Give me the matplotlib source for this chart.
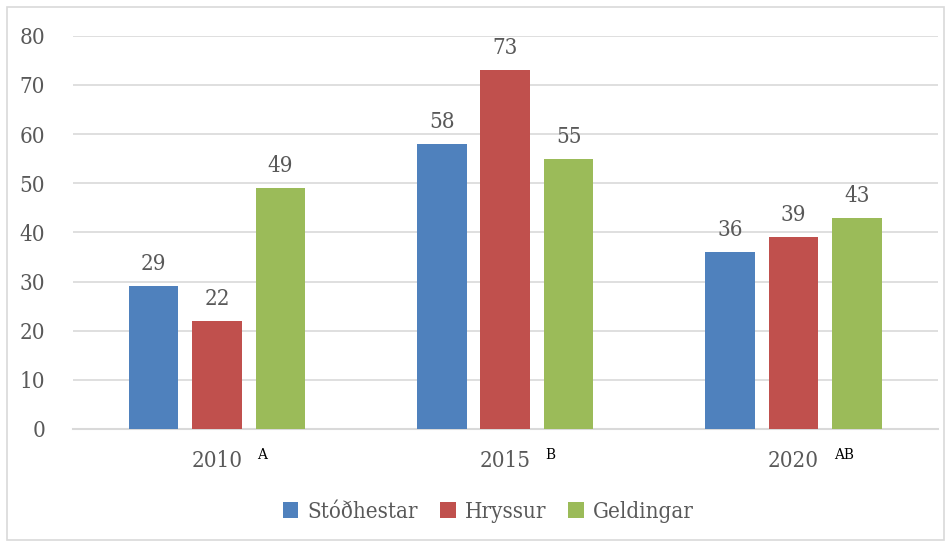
import matplotlib.pyplot as plt
from matplotlib.patches import Rectangle
import numpy as np

years = ['2010', '2015', '2020']
letters = ['A', 'B', 'AB']
series = ['Stóðhestar', 'Hryssur', 'Geldingar']
stodhestar = [29, 58, 36]
hryssur = [22, 73, 39]
geldingar = [49, 55, 43]
colors = ['#4F81BD', '#C0504D', '#9BBB59']

txt = '#595959'
font = dict(family='DejaVu Serif', stretch='condensed')

fig = plt.figure(figsize=(9.48, 5.43), dpi=100)
fig.patches.append(Rectangle((0.007, 0.006), 0.989, 0.982, transform=fig.transFigure,
                             fill=False, edgecolor='#D9D9D9', linewidth=1.2))
ax = fig.add_axes([0.077, 0.21, 0.912, 0.724])

x = np.arange(len(years))
width = 0.172
step = 0.22
for i, (vals, name) in enumerate(zip([stodhestar, hryssur, geldingar], series)):
    bars = ax.bar(x + (i - 1) * step, vals, width, color=colors[i], label=name, zorder=3)
    for b, v in zip(bars, vals):
        ax.annotate(str(v), (b.get_x() + b.get_width() / 2, v), xytext=(0, 8),
                    textcoords='offset points', ha='center', va='bottom',
                    fontsize=16, color=txt, **font)

ax.set_xlim(-0.5, 2.5)
ax.set_ylim(0, 80)
ax.set_yticks(range(0, 81, 10))
ax.grid(axis='y', color='#D9D9D9', linewidth=1.2, zorder=0)
for s in ['top', 'right', 'left']:
    ax.spines[s].set_visible(False)
ax.spines['bottom'].set_color('#D9D9D9')
ax.spines['bottom'].set_linewidth(1.5)
ax.tick_params(length=0, labelsize=16, labelcolor=txt, pad=15)
ax.tick_params(axis='y', pad=20)
ax.set_xticks(x)
ax.set_xticklabels(years)
for lab in ax.get_xticklabels() + ax.get_yticklabels():
    lab.set_family(font['family'])
    lab.set_stretch(font['stretch'])
for xi, l in zip(x, letters):
    ax.annotate(l, (xi, 0), xytext=(29, -19), textcoords='offset points',
                ha='left', va='center', fontsize=11, color='black', **font)

leg = fig.legend(loc='lower center', bbox_to_anchor=(0.515, 0.0), ncol=3, frameon=False,
                 handlelength=0.7, handleheight=0.7, handletextpad=0.4, columnspacing=1.0,
                 prop=dict(size=16, **font))
for t in leg.get_texts():
    t.set_color(txt)

fig.savefig('out.png', dpi=100)
